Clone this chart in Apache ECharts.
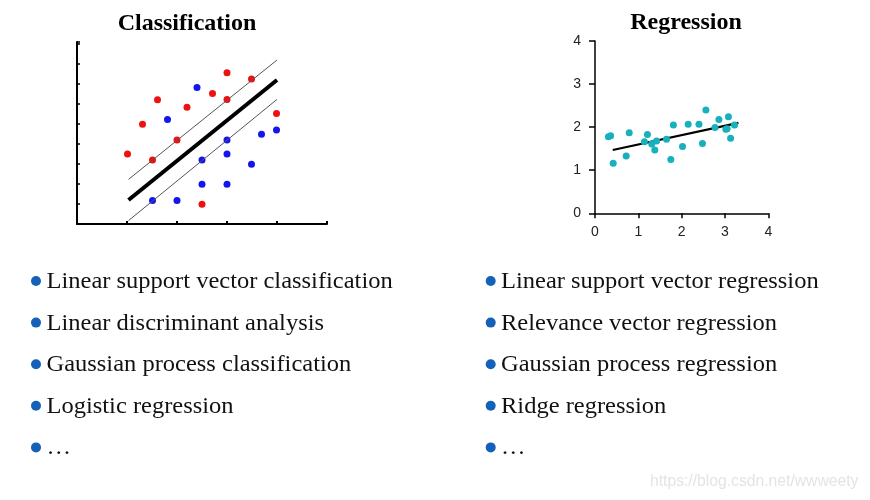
<!DOCTYPE html>
<html>
<head>
<meta charset="utf-8">
<style>html,body{margin:0;padding:0;background:#fff}#c{width:870px;height:500px}</style>
<script src="https://cdn.jsdelivr.net/npm/echarts@6/dist/echarts.min.js"></script>
</head>
<body>
<div id="c"></div>
<script>
// ---- Classification panel data ----
var clsRed = [[3.0,7.56],[3.49,7.25],[1.61,6.21],[2.71,6.52],[3.0,6.22],[2.2,5.84],[1.31,4.99],[2.0,4.2],[1.01,3.5],[1.51,3.2],[3.99,5.52],[2.5,0.99]];
var clsBlue = [[2.4,6.82],[1.81,5.22],[3.0,4.2],[3.69,4.49],[3.99,4.7],[3.0,3.5],[2.5,3.2],[3.49,2.99],[2.5,1.99],[3.0,1.99],[1.51,1.17],[2.0,1.17]];
var clsBoundary = [[1.03,1.2],[4.0,7.2]];
var clsMarginUpper = [[1.03,2.23],[4.0,8.2]];
var clsMarginLower = [[1.03,0.17],[4.0,6.23]];
// ---- Regression panel data ----
var regPoints = [[0.31,1.78],[0.36,1.80],[0.42,1.16],[0.72,1.33],[0.79,1.87],[1.14,1.66],[1.21,1.83],[1.31,1.61],[1.38,1.47],[1.42,1.68],[1.65,1.72],[1.75,1.25],[1.81,2.05],[2.02,1.55],[2.15,2.07],[2.40,2.07],[2.48,1.62],[2.56,2.40],[2.77,1.99],[2.86,2.18],[3.02,1.95],[3.05,1.96],[3.08,2.24],[3.13,1.74],[3.22,2.05]];
var regLine = [[0.41,1.47],[3.31,2.10]];
var regTicks = [0,1,2,3,4];
// ---- Text ----
var titles = ['Classification','Regression'];
var clsMethods = ['Linear support vector classification','Linear discriminant analysis','Gaussian process classification','Logistic regression','\u2026'];
var regMethods = ['Linear support vector regression','Relevance vector regression','Gaussian process regression','Ridge regression','\u2026'];
var watermark = 'https://blog.csdn.net/wwweety';

var chart = echarts.init(document.getElementById('c'));
var serif = '"Liberation Serif","Times New Roman",serif';
var graphics = [];
var rowY = [281, 322.6, 364.2, 405.8, 447.4];
function addList(items, bx, tx){
  items.forEach(function(t,i){
    graphics.push({type:'circle', shape:{cx:bx, cy:rowY[i], r:5}, style:{fill:'#1560b8'}});
    graphics.push({type:'text', x:tx, y:rowY[i]+1, scaleX:1.065, style:{text:t, font:'23px '+serif, fill:'#111', verticalAlign:'middle', align:'left'}});
  });
}
addList(clsMethods, 36, 46.5);
addList(regMethods, 490.7, 501);
graphics.push({type:'text', x:650, y:482, style:{text:watermark, font:'15.7px "Liberation Sans",Arial,sans-serif', fill:'#e4e4e4', verticalAlign:'middle'}});

chart.setOption({
  animation:false,
  backgroundColor:'#fff',
  title:[
    {text:titles[0], left:182, top:18.5, textAlign:'center', textVerticalAlign:'middle', textStyle:{fontFamily:serif, fontWeight:'bold', fontSize:24, color:'#000'}},
    {text:titles[1], left:681, top:17.5, textAlign:'center', textVerticalAlign:'middle', textStyle:{fontFamily:serif, fontWeight:'bold', fontSize:24, color:'#000'}}
  ],
  grid:[
    {left:77, top:42, width:250, height:182},
    {left:595, top:41, width:173.3, height:172.3}
  ],
  xAxis:[
    {gridIndex:0, type:'value', min:0, max:5, interval:1, axisLine:{lineStyle:{color:'#000', width:2}}, axisTick:{show:true, inside:true, length:3, lineStyle:{color:'#000', width:2}}, axisLabel:{show:false}, splitLine:{show:false}},
    {gridIndex:1, type:'value', min:0, max:4, interval:1, axisLine:{lineStyle:{color:'#000', width:1.5}}, axisTick:{show:true, length:5, lineStyle:{color:'#000', width:1.5}}, axisLabel:{show:true, margin:12, fontFamily:'"Liberation Sans",Arial,sans-serif', fontSize:14, color:'#222'}, splitLine:{show:false}}
  ],
  yAxis:[
    {gridIndex:0, type:'value', min:0, max:9.1, interval:1, axisLine:{show:true, lineStyle:{color:'#000', width:2}}, axisTick:{show:true, inside:true, length:3, lineStyle:{color:'#000', width:1.5}}, axisLabel:{show:false}, splitLine:{show:false}},
    {gridIndex:1, type:'value', min:0, max:4, interval:1, axisLine:{show:true, lineStyle:{color:'#000', width:1.5}}, axisTick:{show:true, length:6, lineStyle:{color:'#000', width:1.5}}, axisLabel:{show:true, margin:14, fontFamily:'"Liberation Sans",Arial,sans-serif', fontSize:14, color:'#222'}, splitLine:{show:false}}
  ],
  series:[
    {type:'line', xAxisIndex:0, yAxisIndex:0, data:clsMarginUpper, showSymbol:false, lineStyle:{color:'#555', width:1}, silent:true},
    {type:'line', xAxisIndex:0, yAxisIndex:0, data:clsMarginLower, showSymbol:false, lineStyle:{color:'#555', width:1}, silent:true},
    {type:'line', xAxisIndex:0, yAxisIndex:0, data:clsBoundary, showSymbol:false, lineStyle:{color:'#000', width:4}, silent:true},
    {type:'scatter', xAxisIndex:0, yAxisIndex:0, data:clsRed, symbolSize:7, itemStyle:{color:'#ee1111', opacity:1}},
    {type:'scatter', xAxisIndex:0, yAxisIndex:0, data:clsBlue, symbolSize:7, itemStyle:{color:'#1515ee', opacity:1}},
    {type:'line', xAxisIndex:1, yAxisIndex:1, data:regLine, showSymbol:false, lineStyle:{color:'#000', width:2.2}, silent:true, z:1},
    {type:'scatter', xAxisIndex:1, yAxisIndex:1, data:regPoints, symbolSize:7, itemStyle:{color:'#17b1bd', opacity:1}, z:2}
  ],
  graphic:graphics
});
</script>
</body>
</html>
